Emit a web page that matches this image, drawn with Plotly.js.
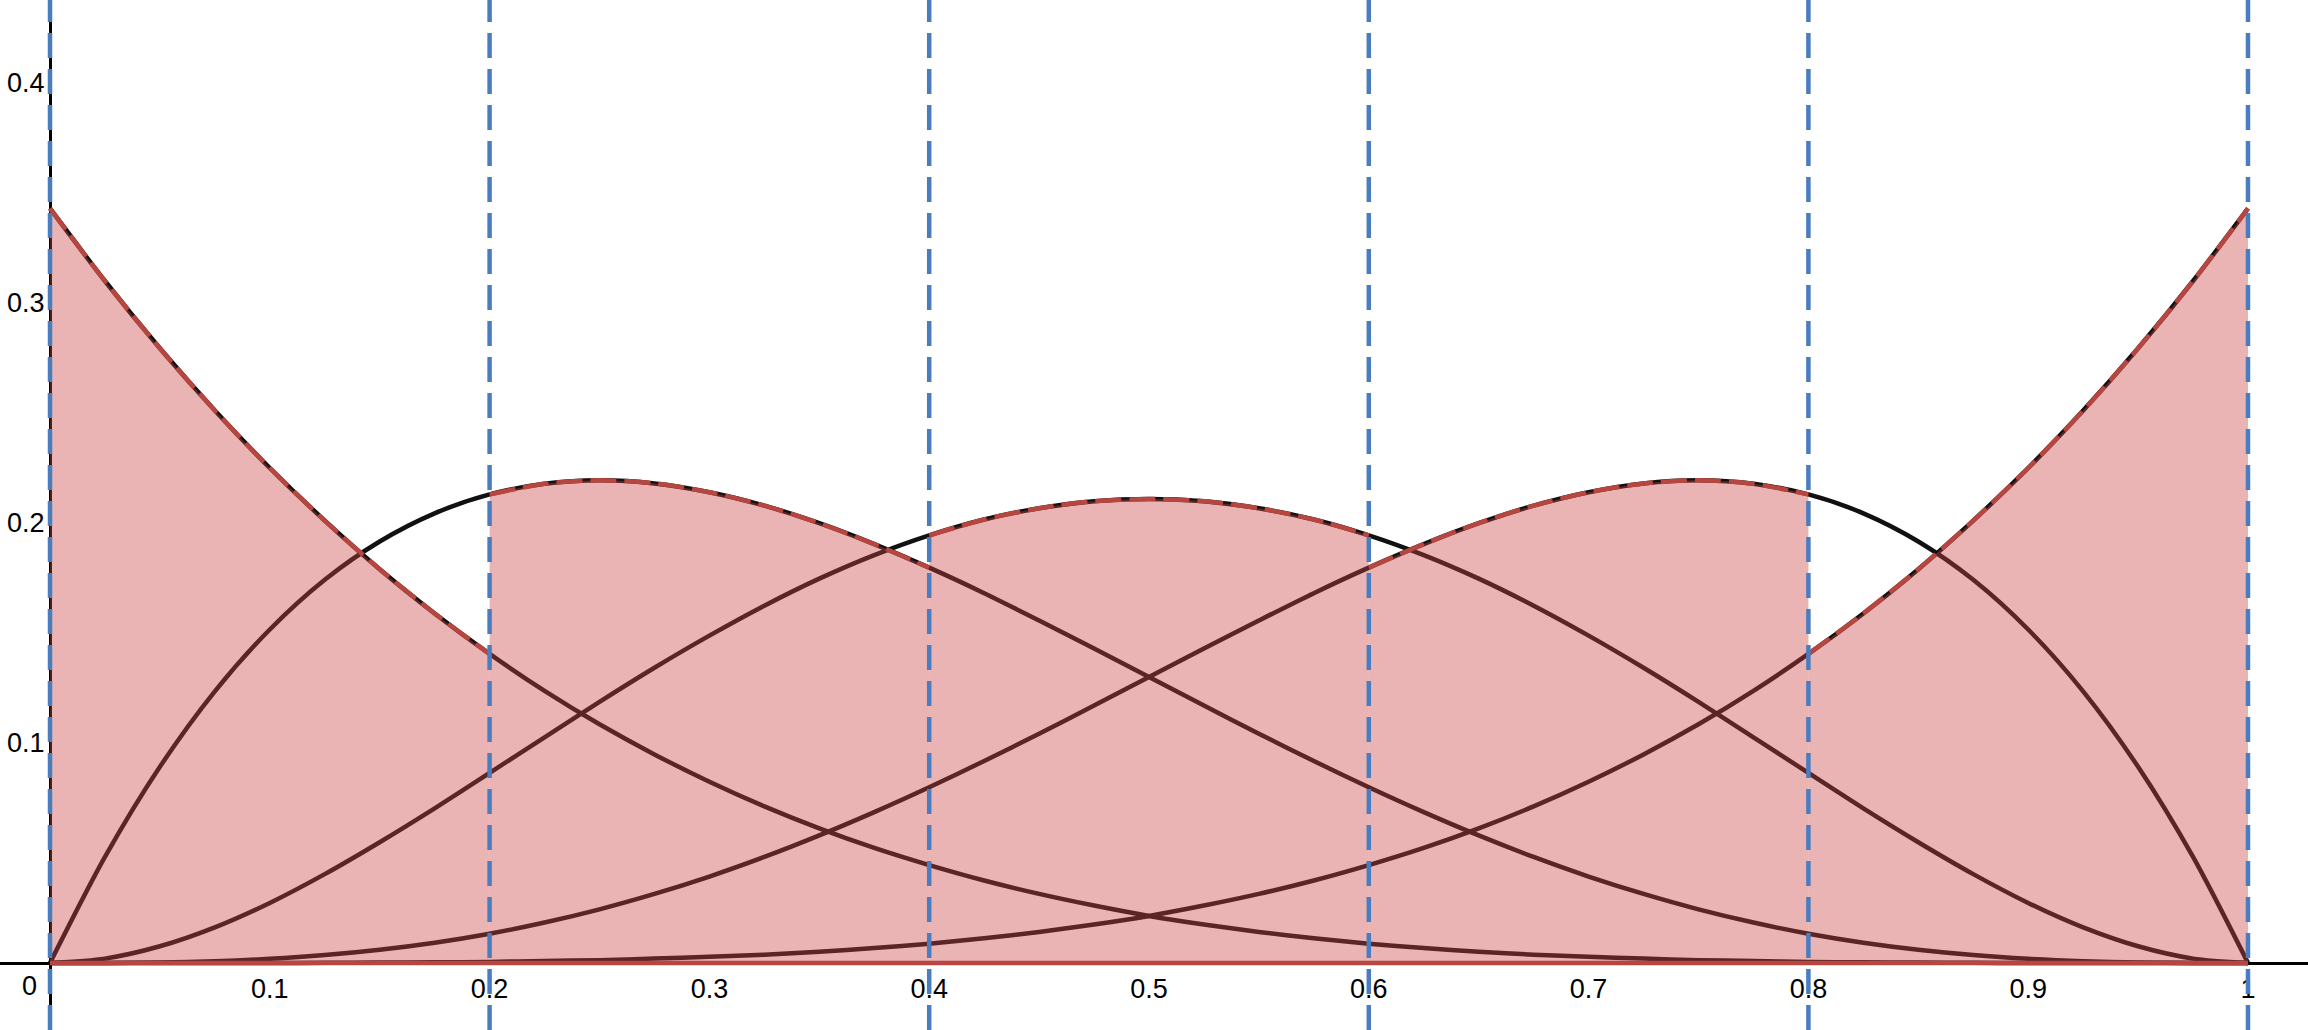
<!DOCTYPE html>
<html>
<head>
<meta charset="utf-8">
<script src="https://cdn.plot.ly/plotly-3.0.1.min.js"></script>
<style>html,body{margin:0;padding:0;background:#fff;}</style>
</head>
<body>
<div id="plotArea" style="width:2308px;height:1030px;"></div>
<script>
// sample positions along x
var xs = [0, 0.025, 0.05, 0.075, 0.1, 0.125, 0.15, 0.175, 0.2, 0.225,
          0.25, 0.275, 0.3, 0.325, 0.35, 0.375, 0.4, 0.425, 0.45, 0.475,
          0.5, 0.525, 0.55, 0.575, 0.6, 0.625, 0.65, 0.675, 0.7, 0.725,
          0.75, 0.775, 0.8, 0.825, 0.85, 0.875, 0.9, 0.925, 0.95, 0.975, 1];

// the five bumps
var curve1 = [0.3430, 0.3100, 0.2794, 0.2511, 0.2250, 0.2011, 0.1790, 0.1589, 0.1405, 0.1237,
              0.1085, 0.0948, 0.0824, 0.0712, 0.0612, 0.0523, 0.0445, 0.0375, 0.0314, 0.0261,
              0.0214, 0.0175, 0.0141, 0.0112, 0.0088, 0.0068, 0.0051, 0.0038, 0.0028, 0.0020,
              0.0013, 0.0009, 0.0005, 0.0003, 0.0002, 0.0001, 0, 0, 0, 0, 0];
var curve2 = [0, 0.0482, 0.0892, 0.1235, 0.1516, 0.1742, 0.1916, 0.2044, 0.2130, 0.2178,
              0.2194, 0.2180, 0.2140, 0.2079, 0.1999, 0.1904, 0.1797, 0.1681, 0.1557, 0.1430,
              0.1300, 0.1170, 0.1042, 0.0918, 0.0799, 0.0686, 0.0580, 0.0482, 0.0393, 0.0314,
              0.0244, 0.0184, 0.0133, 0.0092, 0.0060, 0.0036, 0.0019, 0.0008, 0.0002, 0, 0];
var curve3 = [0, 0.0020, 0.0076, 0.0162, 0.0273, 0.0404, 0.0549, 0.0703, 0.0864, 0.1026,
              0.1187, 0.1342, 0.1488, 0.1624, 0.1747, 0.1854, 0.1944, 0.2016, 0.2067, 0.2099,
              0.2109, 0.2099, 0.2067, 0.2016, 0.1944, 0.1854, 0.1747, 0.1624, 0.1488, 0.1342,
              0.1187, 0.1026, 0.0864, 0.0703, 0.0549, 0.0404, 0.0273, 0.0162, 0.0076, 0.0020, 0];
var curve4 = [0, 0, 0.0002, 0.0008, 0.0019, 0.0036, 0.0060, 0.0092, 0.0133, 0.0184,
              0.0244, 0.0314, 0.0393, 0.0482, 0.0580, 0.0686, 0.0799, 0.0918, 0.1042, 0.1170,
              0.1300, 0.1430, 0.1557, 0.1681, 0.1797, 0.1904, 0.1999, 0.2079, 0.2140, 0.2180,
              0.2194, 0.2178, 0.2130, 0.2044, 0.1916, 0.1742, 0.1516, 0.1235, 0.0892, 0.0482, 0];
var curve5 = [0, 0, 0, 0, 0, 0.0001, 0.0002, 0.0003, 0.0005, 0.0009,
              0.0013, 0.0020, 0.0028, 0.0038, 0.0051, 0.0068, 0.0088, 0.0112, 0.0141, 0.0175,
              0.0214, 0.0261, 0.0314, 0.0375, 0.0445, 0.0523, 0.0612, 0.0712, 0.0824, 0.0948,
              0.1085, 0.1237, 0.1405, 0.1589, 0.1790, 0.2011, 0.2250, 0.2511, 0.2794, 0.3100, 0.3430];

// dashed vertical lines
var knots = [0, 0.2, 0.4, 0.6, 0.8, 1];

var xTicks = [0.1, 0.2, 0.3, 0.4, 0.5, 0.6, 0.7, 0.8, 0.9, 1];
var xTickText = ["0.1", "0.2", "0.3", "0.4", "0.5", "0.6", "0.7", "0.8", "0.9", "1"];
var yTicks = [0.1, 0.2, 0.3, 0.4];
var yTickText = ["0.1", "0.2", "0.3", "0.4"];

var curves = [curve1, curve2, curve3, curve4, curve5];
var red = "#b6463f";
var data = [];

// black curves first, the shading goes over them
curves.forEach(function (c) {
  data.push({
    x: xs, y: c, mode: "lines", type: "scatter", hoverinfo: "skip",
    line: {color: "#111111", width: 4.5, shape: "spline", smoothing: 0.8}
  });
});

// shaded piece under one curve per knot interval
curves.forEach(function (c, k) {
  var i0 = xs.indexOf(knots[k]);
  var i1 = xs.indexOf(knots[k + 1]);
  data.push({
    x: xs.slice(i0, i1 + 1), y: c.slice(i0, i1 + 1),
    mode: "lines", type: "scatter", hoverinfo: "skip",
    fill: "tozeroy", fillcolor: "rgba(199,68,64,0.4)",
    line: {color: red, width: 4.5, dash: "26px,8px", shape: "spline", smoothing: 0.8}
  });
});

// bottom edge of the shaded region
data.push({
  x: [knots[0], knots[knots.length - 1]], y: [0, 0],
  mode: "lines", type: "scatter", hoverinfo: "skip",
  line: {color: red, width: 4.5}
});

var xRange = [-0.02275, 1.0273];
var yRange = [-0.030455, 0.43773];
var xPos = 0.06505, yPos = 0.021664;
var tickFont = {family: "Liberation Sans, Arial, sans-serif", size: 27, color: "#000"};

// extra axes only carry the tick marks that cross the main axes
function tickAxis(range, over, pos, side, vals) {
  return {
    range: range, overlaying: over, anchor: "free", position: pos,
    showgrid: false, showline: false, zeroline: false,
    tickvals: vals, showticklabels: false,
    ticks: side, ticklen: 6, tickwidth: 2, tickcolor: "#000"
  };
}

var shapes = knots.map(function (k) {
  return {
    type: "line", xref: "x", yref: "paper", x0: k, x1: k, y0: 0, y1: 1,
    layer: "above", line: {color: "#4a7dbf", width: 4.5, dash: "25px,11px"}
  };
});

var layout = {
  width: 2308, height: 1030,
  margin: {l: 0, r: 0, t: 0, b: 0},
  paper_bgcolor: "#fff", plot_bgcolor: "#fff",
  showlegend: false,
  xaxis: {
    range: xRange, anchor: "free", position: xPos,
    showgrid: false, showline: false,
    zeroline: true, zerolinecolor: "#000", zerolinewidth: 3,
    tickvals: xTicks, ticktext: xTickText,
    ticks: "outside", ticklen: 2, tickcolor: "rgba(0,0,0,0)",
    tickfont: tickFont, automargin: false
  },
  xaxis2: tickAxis(xRange, "x", xPos, "inside", xTicks),
  xaxis3: tickAxis(xRange, "x", xPos, "outside", xTicks),
  yaxis: {
    range: yRange, anchor: "free", position: yPos,
    showgrid: false, showline: false,
    zeroline: true, zerolinecolor: "#000", zerolinewidth: 3,
    tickvals: yTicks, ticktext: yTickText,
    ticks: "outside", ticklen: 0, tickcolor: "rgba(0,0,0,0)",
    tickfont: tickFont, automargin: false
  },
  yaxis2: tickAxis(yRange, "y", yPos, "inside", yTicks),
  yaxis3: tickAxis(yRange, "y", yPos, "outside", yTicks),
  shapes: shapes,
  annotations: [{
    x: 0, y: 0, xref: "x", yref: "y", text: "0", showarrow: false,
    xanchor: "right", yanchor: "top", xshift: -11, yshift: -6,
    font: tickFont
  }]
};

Plotly.newPlot("plotArea", data, layout, {staticPlot: true, displayModeBar: false});
</script>
</body>
</html>
